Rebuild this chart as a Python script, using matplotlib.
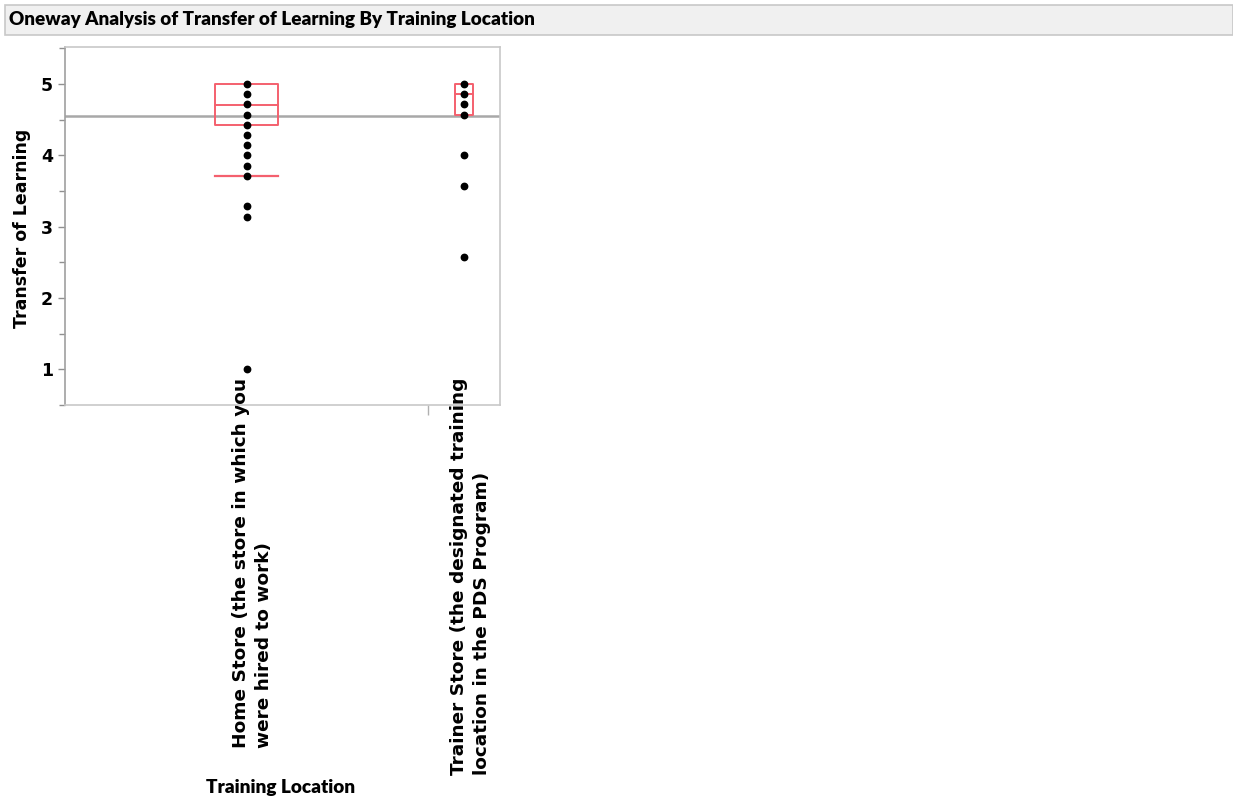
import matplotlib.pyplot as plt
from matplotlib.patches import Rectangle
from matplotlib.ticker import FixedLocator, MultipleLocator
import matplotlib.transforms as mtransforms

title = "Oneway Analysis of Transfer of Learning By Training Location"
groups = ["Home Store (the store in which you\nwere hired to work)",
          "Trainer Store (the designated training\nlocation in the PDS Program)"]

# observed scores (7-point scale averages)
home_values = [5.0, 4.857, 4.714, 4.571, 4.429, 4.286, 4.143, 4.0,
               3.857, 3.714, 3.286, 3.143, 1.0]
trainer_values = [5.0, 4.857, 4.714, 4.571, 4.0, 3.571, 2.571]

# quantile boxes: q1, median, q3, lower whisker
home_box = [4.43, 4.70, 5.0, 3.71]
trainer_box = [4.57, 4.86, 5.0, None]
grand_mean = 4.55

# JMP sizes each group by its count
group_widths = [0.835, 0.165]
box_half = [0.073, 0.021]

fig = plt.figure(figsize=(12.33, 8.0), dpi=100)

# title bar
fig.patches.append(Rectangle((5 / 1233, 1 - 35 / 800), 1228 / 1233, 30 / 800,
                             transform=fig.transFigure, facecolor='#f0f0f0',
                             edgecolor='#c8c8c8', linewidth=1.2))
fig.text(9 / 1233, 1 - 19 / 800, title, family='Lato', weight='heavy',
         fontsize=13.6, va='center', ha='left')

ax = fig.add_axes([65 / 1233, 1 - 405 / 800, 435 / 1233, 358 / 800])

edges = [0]
for w in group_widths:
    edges.append(edges[-1] + w)
centers = [(edges[i] + edges[i + 1]) / 2 for i in range(len(group_widths))]

red = '#f4606e'
for cx, hw, vals, box in zip(centers, box_half, [home_values, trainer_values],
                             [home_box, trainer_box]):
    q1, med, q3, wlo = box
    ax.add_patch(Rectangle((cx - hw, q1), 2 * hw, q3 - q1, fill=False,
                           edgecolor=red, linewidth=1.4, joinstyle='round', zorder=2))
    ax.plot([cx - hw, cx + hw], [med, med], color=red, lw=1.4, zorder=2)
    if wlo is not None:
        ax.plot([cx - hw, cx + hw], [wlo, wlo], color=red, lw=1.6, zorder=2)
    ax.plot([cx] * len(vals), vals, 'o', color='black', markersize=4.6, zorder=3)

ax.axhline(grand_mean, color='#a8a8a8', lw=1.8, zorder=1)

ax.set_xlim(0, 1)
ax.set_ylim(0.5, 5.52)
ax.yaxis.set_major_locator(FixedLocator([1, 2, 3, 4, 5]))
ax.yaxis.set_minor_locator(MultipleLocator(0.5))
ax.tick_params(axis='y', which='both', colors='#909090', labelcolor='black',
               labelsize=12.5, length=5, width=1)
ax.tick_params(axis='y', which='minor', length=4)
for lab in ax.get_yticklabels():
    lab.set_fontweight('bold')

ax.set_xticks(centers)
ax.set_xticklabels(groups, rotation=90, fontsize=13.3, fontweight='bold',
                   linespacing=1.36)
ax.xaxis.set_minor_locator(FixedLocator([edges[1]]))
ax.tick_params(axis='x', which='major', length=0, pad=-19.5)
ax.tick_params(axis='x', which='minor', length=7, colors='#b0b0b0', width=1)
shift = mtransforms.ScaledTranslation(6 / 100, 0, fig.dpi_scale_trans)
for lab in ax.get_xticklabels():
    lab.set_multialignment('left')
    lab.set_transform(lab.get_transform() + shift)

for s in ax.spines.values():
    s.set_color('#c8c8c8')
    s.set_linewidth(1.2)
ax.spines['left'].set_color('#a0a0a0')

fig.text(22 / 1233, 1 - 228 / 800, "Transfer of Learning", rotation=90,
         fontsize=12.5, fontweight='bold', ha='center', va='center')
fig.text(281 / 1233, 1 - 788 / 800, "Training Location", family='Lato',
         fontsize=13.7, fontweight='heavy', ha='center', va='center')

fig.savefig('out.png', dpi=100)
